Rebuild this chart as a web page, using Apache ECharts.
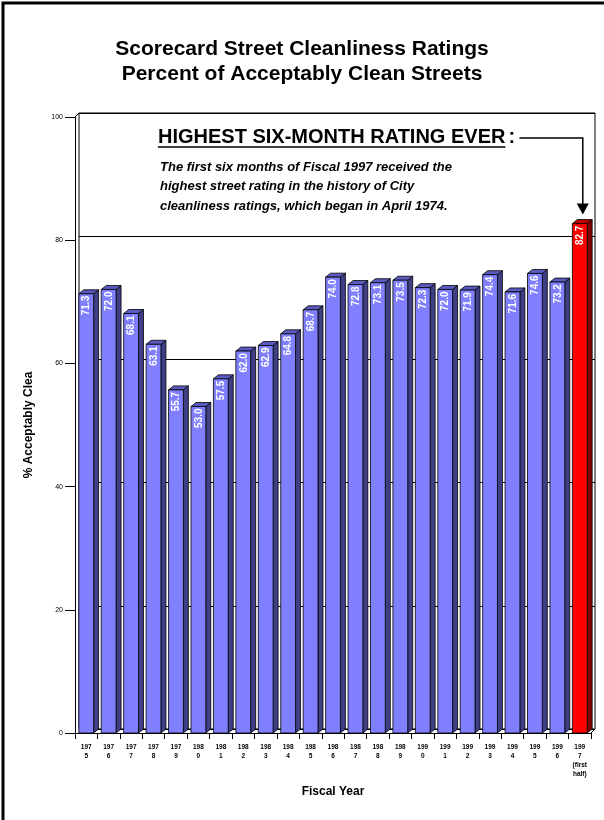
<!DOCTYPE html>
<html><head><meta charset="utf-8">
<script src="https://cdn.jsdelivr.net/npm/echarts/dist/echarts.min.js"></script>
<style>html,body{margin:0;padding:0;background:#fff}#c{width:604px;height:820px}</style>
</head><body><div id="c"></div>
<script>
const categories = ['197\n5','197\n6','197\n7','197\n8','197\n9','198\n0','198\n1','198\n2','198\n3','198\n4','198\n5','198\n6','198\n7','198\n8','198\n9','199\n0','199\n1','199\n2','199\n3','199\n4','199\n5','199\n6','199\n7\n(first\nhalf)'];
const ratings = [71.3,72.0,68.1,63.1,55.7,53.0,57.5,62.0,62.9,64.8,68.7,74.0,72.8,73.1,73.5,72.3,72.0,71.9,74.4,71.6,74.6,73.2,82.7];
const highlightIndex = 22;
const titleLines = ['Scorecard Street Cleanliness Ratings','Percent of Acceptably Clean Streets'];
const noteHeading = 'HIGHEST SIX-MONTH RATING EVER';
const noteLines = ['The first six months of Fiscal 1997 received the','highest street rating in the history of City','cleanliness ratings, which began in April 1974.'];

const FONT = 'Arial, "Liberation Sans", Helvetica, sans-serif';
const chart = echarts.init(document.getElementById('c'), null, {renderer:'canvas'});

const DX = 5, DY = 4;
function renderBar(params, api){
  const i = api.value(0), v = api.value(1);
  const top = api.coord([i, v]);
  const base = api.coord([i, 0]);
  const bw = api.size([1, 0])[0];
  const fw = bw * 0.66;
  const x0 = top[0] - fw/2, x1 = top[0] + fw/2;
  const yt = top[1], yb = base[1];
  const hi = i === highlightIndex;
  const cFront = hi ? '#FF0000' : '#8080FF';
  const cSide = hi ? '#800000' : '#3F3F86';
  const cTop = hi ? '#C00000' : '#5A5AC0';
  const st = {stroke:'#000', lineWidth:0.8};
  return {type:'group', children:[
    {type:'polygon', shape:{points:[[x1,yb],[x1,yt],[x1+DX,yt-DY],[x1+DX,yb-DY]]}, style:Object.assign({fill:cSide}, st)},
    {type:'polygon', shape:{points:[[x0,yt],[x1,yt],[x1+DX,yt-DY],[x0+DX,yt-DY]]}, style:Object.assign({fill:cTop}, st)},
    {type:'rect', shape:{x:x0, y:yt, width:fw, height:yb-yt}, style:Object.assign({fill:cFront}, st)},
    {type:'text', x: top[0]+0.5, y: yt+2, rotation: Math.PI/2,
      style:{text: v.toFixed(1), fill:'#fff', font:'bold 10px ' + FONT, align:'right', verticalAlign:'middle',
        textShadowColor:'rgba(0,0,0,0.6)', textShadowOffsetX:0.5, textShadowOffsetY:0.5, textShadowBlur:0}}
  ]};
}

const option = {
  animation:false,
  backgroundColor:'#fff',
  title:{text: titleLines.join('\n'), left:'center', top:32,
    textStyle:{fontFamily:FONT, fontSize:21, fontWeight:'bold', color:'#000', lineHeight:25}},
  grid:[
    {left:75, right:13, top:117, bottom:87},
    {left:79, right:9, top:113, bottom:91, show:true, borderColor:'#000', borderWidth:1, backgroundColor:'transparent'}
  ],
  xAxis:[
    {type:'category', gridIndex:0, data:categories,
      axisLine:{lineStyle:{color:'#000', width:1}},
      axisTick:{show:true, length:6, lineStyle:{color:'#000'}},
      axisLabel:{interval:0, fontFamily:FONT, fontSize:6.5, fontWeight:'bold', color:'#000', lineHeight:9, margin:10},
      name:'Fiscal Year', nameLocation:'middle', nameGap:53,
      nameTextStyle:{fontFamily:FONT, fontSize:12, fontWeight:'bold', color:'#000'}},
    {type:'category', gridIndex:1, data:categories, show:false}
  ],
  yAxis:[
    {type:'value', gridIndex:0, min:0, max:100, interval:20,
      axisLine:{show:true, lineStyle:{color:'#000', width:1}},
      axisTick:{show:true, length:10, lineStyle:{color:'#000'}},
      axisLabel:{fontFamily:FONT, fontSize:7, color:'#000', margin:12},
      splitLine:{show:false},
      name:'% Acceptably Clean', nameLocation:'middle', nameGap:40,
      nameTruncate:{maxWidth:112, ellipsis:''},
      nameTextStyle:{fontFamily:FONT, fontSize:12, fontWeight:'bold', color:'#000'}},
    {type:'value', gridIndex:1, min:0, max:100, interval:20,
      axisLine:{show:false}, axisTick:{show:false}, axisLabel:{show:false},
      splitLine:{show:true, lineStyle:{color:'#000', width:1}}}
  ],
  series:[{
    type:'custom', xAxisIndex:0, yAxisIndex:0,
    data: ratings.map((v,i)=>[i,v]),
    encode:{x:0, y:1},
    renderItem: renderBar,
    z:10
  }]
};
chart.setOption(option);

// annotations
const ctx = document.createElement('canvas').getContext('2d');
ctx.font = 'bold 20px ' + FONT;
const headW = ctx.measureText(noteHeading).width;
const hx = 158, hy = 137;
const lastX = chart.convertToPixel({xAxisIndex:0}, highlightIndex) + 3;
const lastTop = chart.convertToPixel({yAxisIndex:0}, ratings[highlightIndex]);
const ax0 = chart.convertToPixel({xAxisIndex:0}, 0) - 11.2;
const yTopPx = chart.convertToPixel({yAxisIndex:0}, 100);
const yBotPx = chart.convertToPixel({yAxisIndex:0}, 0);
const axEnd = chart.convertToPixel({xAxisIndex:0}, categories.length-1) + 11.2;
const arrowTipY = lastTop - 9;
const graphic = [
  {type:'rect', shape:{x:3, y:3, width:700, height:900}, style:{fill:'none', stroke:'#000', lineWidth:3}, silent:true},
  {type:'line', shape:{x1:ax0, y1:yTopPx, x2:ax0+4, y2:yTopPx-4}, style:{stroke:'#000', lineWidth:1}},
  {type:'line', shape:{x1:axEnd, y1:yBotPx, x2:axEnd+4, y2:yBotPx-4}, style:{stroke:'#000', lineWidth:1}},
  {type:'text', x:hx, y:hy, style:{text:noteHeading, font:'bold 20px ' + FONT, fill:'#000', verticalAlign:'middle'}},
  {type:'line', shape:{x1:hx, y1:hy+10, x2:hx+headW, y2:hy+10}, style:{stroke:'#000', lineWidth:1.5}},
  {type:'text', x:hx+headW+3, y:hy, style:{text:':', font:'bold 20px ' + FONT, fill:'#000', verticalAlign:'middle'}},
  {type:'polyline', shape:{points:[[hx+headW+14, hy+1],[lastX, hy+1],[lastX, arrowTipY-10]]}, style:{stroke:'#000', lineWidth:1.5, fill:'none'}},
  {type:'polygon', shape:{points:[[lastX-6, arrowTipY-11],[lastX+6, arrowTipY-11],[lastX, arrowTipY]]}, style:{fill:'#000'}}
];
noteLines.forEach((t,k)=>{
  graphic.push({type:'text', x:hx+2, y:167 + k*19.5, style:{text:t, font:'italic bold 13px ' + FONT, fill:'#000', verticalAlign:'middle'}});
});
chart.setOption({graphic: graphic});
</script>
</body></html>
